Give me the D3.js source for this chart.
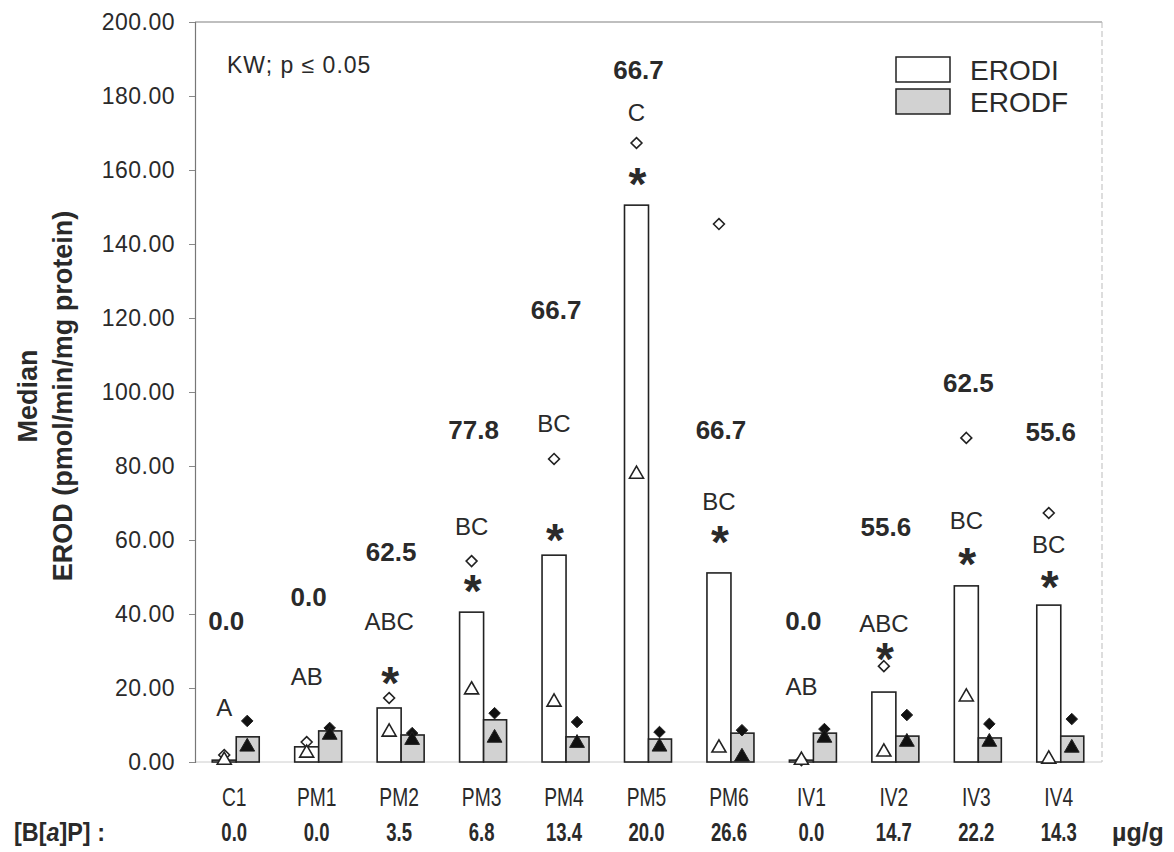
<!DOCTYPE html>
<html>
<head>
<meta charset="utf-8">
<script src="https://cdn.jsdelivr.net/npm/d3@7"></script>
<style>
  body { margin: 0; background: #fff; }
  text { font-family: "Liberation Sans", Arial, sans-serif; fill: #2a2a2a; }
</style>
</head>
<body>
<svg id="chart" width="1174" height="852"></svg>
<script>
// groups and dose of B[a]P
const groups = ["C1", "PM1", "PM2", "PM3", "PM4", "PM5", "PM6", "IV1", "IV2", "IV3", "IV4"]
const bapDose = ["0.0", "0.0", "3.5", "6.8", "13.4", "20.0", "26.6", "0.0", "14.7", "22.2", "14.3"]

// medians
const erodiMedian = [0.5, 4.1, 14.6, 40.5, 55.9, 150.5, 51.1, 0.5, 18.9, 47.6, 42.4]
const erodfMedian = [6.8, 8.4, 7.3, 11.4, 6.8, 6.2, 7.8, 7.8, 7.0, 6.5, 7.0]

// max / min markers
const erodiMax = [1.9, 5.4, 17.3, 54.3, 81.9, 167.3, 145.4, 0.5, 25.9, 87.6, 67.3]
const erodiMin = [0.5, 2.4, 8.1, 19.5, 16.2, 77.8, 3.8, 0.5, 2.7, 17.6, 0.8]
const erodfMax = [11.1, 9.2, 7.8, 13.2, 10.8, 8.1, 8.6, 8.9, 12.7, 10.3, 11.6]
const erodfMin = [4.1, 7.3, 5.9, 6.5, 5.1, 4.1, 1.4, 6.5, 5.4, 5.4, 3.8]

// annotations (percent, letter groups, significance) and the height they sit at
const pctLabels = ["0.0", "0.0", "62.5", "77.8", "66.7", "66.7", "66.7", "0.0", "55.6", "62.5", "55.6"]
const pctAt = [38.1, 44.6, 56.8, 89.7, 122.2, 187.0, 89.7, 38.1, 63.5, 102.4, 89.2]
const letterLabels = ["A", "AB", "ABC", "BC", "BC", "C", "BC", "AB", "ABC", "BC", "BC"]
const letterAt = [14.9, 23.2, 38.1, 63.8, 91.4, 175.7, 70.5, 20.5, 37.6, 65.4, 58.9]
const starAt = [null, null, 24.3, 49.2, 63.0, 159.2, 62.4, null, 30.8, 56.5, 50.3]

const yTicks = [0, 20, 40, 60, 80, 100, 120, 140, 160, 180, 200]

const svg = d3.select("#chart")
const plot = { left: 195, right: 1102, top: 22, bottom: 762 }

const x = d3.scaleBand().domain(groups).range([plot.left, plot.right]).padding(0)
const y = d3.scaleLinear().domain([0, 200]).range([plot.bottom, plot.top])
const barW = 24
const cx = g => x(g) + x.bandwidth() / 2

// frame (light, like the scanned original)
svg.append("line").attr("x1", plot.left).attr("x2", plot.right).attr("y1", plot.top).attr("y2", plot.top)
    .attr("stroke", "#aaa").attr("stroke-width", 1.5)
svg.append("line").attr("x1", plot.right).attr("x2", plot.right).attr("y1", plot.top).attr("y2", plot.bottom)
    .attr("stroke", "#bbb").attr("stroke-width", 1).attr("stroke-dasharray", "6,3")
svg.append("line").attr("x1", plot.left).attr("x2", plot.right).attr("y1", plot.bottom).attr("y2", plot.bottom)
    .attr("stroke", "#ccc").attr("stroke-width", 1)

// y axis
const yAxis = svg.append("g")
    .attr("transform", `translate(${plot.left},0)`)
    .call(d3.axisLeft(y).tickValues(yTicks).tickFormat(d3.format(".2f")).tickSize(6).tickPadding(14))
yAxis.select(".domain").attr("stroke", "#777").attr("stroke-width", 1.2)
yAxis.selectAll(".tick line").attr("stroke", "#888")
yAxis.selectAll(".tick text")
    .style("font-size", "23px").style("font-family", "Liberation Sans, Arial")
    .style("letter-spacing", "0.5px").attr("fill", "#333")

// axis title
svg.append("text")
    .attr("transform", "translate(37,396) rotate(-90)")
    .attr("text-anchor", "middle")
    .style("font-size", "27px").style("font-weight", "bold")
    .text("Median")
svg.append("text")
    .attr("transform", "translate(72,396) rotate(-90)")
    .attr("text-anchor", "middle")
    .style("font-size", "27px").style("font-weight", "bold")
    .text("EROD (pmol/min/mg protein)")

// bars
const gBars = svg.append("g")
gBars.selectAll("rect.erodi")
    .data(groups)
    .join("rect")
    .attr("class", "erodi")
    .attr("x", d => cx(d) - barW)
    .attr("width", barW)
    .attr("y", (d, i) => y(erodiMedian[i]))
    .attr("height", (d, i) => y(0) - y(erodiMedian[i]))
    .attr("fill", "#fff")
    .attr("stroke", "#222")
    .attr("stroke-width", 1.6)

gBars.selectAll("rect.erodf")
    .data(groups)
    .join("rect")
    .attr("class", "erodf")
    .attr("x", d => cx(d))
    .attr("width", barW - 1)
    .attr("y", (d, i) => y(erodfMedian[i]))
    .attr("height", (d, i) => y(0) - y(erodfMedian[i]))
    .attr("fill", "#d2d2d2")
    .attr("stroke", "#222")
    .attr("stroke-width", 1.6)

// markers
const diamond = d3.symbol().type(d3.symbolDiamond2)
const triangle = d3.symbol().type(d3.symbolTriangle)

function drawMarkers(values, dx, sym, size, filled) {
    svg.append("g").selectAll("path")
        .data(groups)
        .join("path")
        .attr("transform", (d, i) => `translate(${cx(d) + dx},${y(values[i])})`)
        .attr("d", sym.size(size)())
        .attr("fill", filled ? "#111" : "#fff")
        .attr("stroke", "#222")
        .attr("stroke-width", filled ? 1 : 1.6)
}
drawMarkers(erodiMax, -12, diamond, 75, false)
drawMarkers(erodiMin, -12, triangle, 85, false)
drawMarkers(erodfMax, 11, diamond, 85, true)
drawMarkers(erodfMin, 11, triangle, 95, true)

// annotations
svg.append("g").selectAll("text")
    .data(groups)
    .join("text")
    .attr("x", d => cx(d) - 10)
    .attr("y", (d, i) => y(pctAt[i]))
    .attr("dy", "0.36em")
    .attr("text-anchor", "middle")
    .style("font-size", "26px").style("font-weight", "bold")
    .text((d, i) => pctLabels[i])

svg.append("g").selectAll("text")
    .data(groups)
    .join("text")
    .attr("x", d => cx(d) - 12)
    .attr("y", (d, i) => y(letterAt[i]))
    .attr("dy", "0.36em")
    .attr("text-anchor", "middle")
    .style("font-size", "24px")
    .text((d, i) => letterLabels[i])

svg.append("g").selectAll("text")
    .data(groups.filter((d, i) => starAt[i] !== null))
    .join("text")
    .attr("x", d => cx(d) - 11)
    .attr("y", d => y(starAt[groups.indexOf(d)]))
    .attr("dy", "0.58em")
    .attr("text-anchor", "middle")
    .style("font-size", "46px").style("font-weight", "bold")
    .text("*")

// KW note
svg.append("text")
    .attr("x", 227).attr("y", 65).attr("dy", "0.36em")
    .style("font-size", "23px").style("letter-spacing", "1px")
    .text("KW; p \u2264  0.05")

// legend
const legend = svg.append("g")
const legendItems = [["ERODI", "#fff"], ["ERODF", "#d2d2d2"]]
legend.selectAll("rect")
    .data(legendItems)
    .join("rect")
    .attr("x", 896).attr("y", (d, i) => 57 + i * 32)
    .attr("width", 54).attr("height", 25)
    .attr("fill", d => d[1]).attr("stroke", "#222").attr("stroke-width", 1.5)
legend.selectAll("text")
    .data(legendItems)
    .join("text")
    .attr("x", 970).attr("y", (d, i) => 70 + i * 32).attr("dy", "0.36em")
    .style("font-size", "28px")
    .text(d => d[0])

// category labels and dose row
svg.append("g").selectAll("text")
    .data(groups)
    .join("text")
    .attr("transform", d => `translate(${cx(d) - 2},797) scale(0.74,1)`)
    .attr("dy", "0.36em")
    .attr("text-anchor", "middle")
    .style("font-size", "26px")
    .text(d => d)

svg.append("g").selectAll("text")
    .data(groups)
    .join("text")
    .attr("transform", d => `translate(${cx(d) - 2},832) scale(0.74,1)`)
    .attr("dy", "0.36em")
    .attr("text-anchor", "middle")
    .style("font-size", "25px").style("font-weight", "bold")
    .text((d, i) => bapDose[i])

const bapLabel = svg.append("text")
    .attr("transform", "translate(14,832) scale(0.9,1)")
    .attr("dy", "0.36em")
    .style("font-size", "26px").style("font-weight", "bold")
bapLabel.append("tspan").text("[B[")
bapLabel.append("tspan").style("font-style", "italic").text("a")
bapLabel.append("tspan").text("]P]  :")

svg.append("text")
    .attr("x", 1112).attr("y", 832)
    .attr("dy", "0.36em")
    .style("font-size", "25px").style("font-weight", "bold")
    .text("\u00b5g/g")
</script>
</body>
</html>
